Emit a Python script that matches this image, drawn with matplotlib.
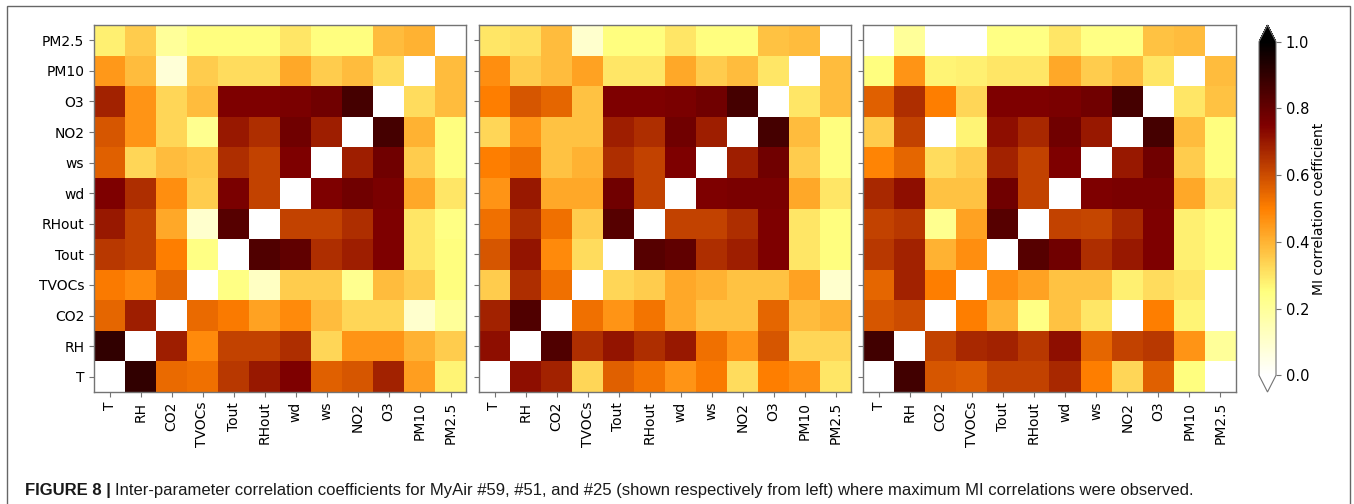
import numpy as np
import matplotlib.pyplot as plt
from matplotlib.patches import Rectangle

# parameter order on both axes
labels = ["T", "RH", "CO2", "TVOCs", "Tout", "RHout", "wd", "ws", "NO2", "O3", "PM10", "PM2.5"]

# MI correlation matrices, row = y parameter (T at bottom), column = x parameter
mi_59 = [
    [0.00, 0.90, 0.54, 0.53, 0.64, 0.70, 0.75, 0.56, 0.58, 0.68, 0.44, 0.27],
    [0.90, 0.00, 0.69, 0.48, 0.62, 0.62, 0.66, 0.33, 0.46, 0.46, 0.40, 0.35],
    [0.55, 0.69, 0.00, 0.54, 0.51, 0.43, 0.48, 0.38, 0.33, 0.33, 0.10, 0.20],
    [0.51, 0.48, 0.55, 0.00, 0.24, 0.12, 0.35, 0.35, 0.22, 0.38, 0.35, 0.25],
    [0.64, 0.62, 0.50, 0.24, 0.00, 0.84, 0.81, 0.66, 0.69, 0.75, 0.30, 0.25],
    [0.70, 0.62, 0.42, 0.10, 0.83, 0.00, 0.62, 0.62, 0.66, 0.75, 0.30, 0.24],
    [0.75, 0.66, 0.47, 0.35, 0.76, 0.62, 0.00, 0.75, 0.78, 0.76, 0.42, 0.30],
    [0.56, 0.33, 0.38, 0.36, 0.66, 0.62, 0.75, 0.00, 0.69, 0.78, 0.35, 0.25],
    [0.58, 0.46, 0.33, 0.22, 0.70, 0.66, 0.78, 0.69, 0.00, 0.86, 0.40, 0.25],
    [0.68, 0.46, 0.33, 0.38, 0.75, 0.75, 0.76, 0.78, 0.86, 0.00, 0.32, 0.38],
    [0.45, 0.38, 0.08, 0.35, 0.32, 0.32, 0.42, 0.35, 0.38, 0.32, 0.00, 0.38],
    [0.28, 0.35, 0.20, 0.25, 0.25, 0.25, 0.30, 0.25, 0.25, 0.38, 0.40, 0.00],
]

mi_51 = [
    [0.00, 0.72, 0.68, 0.33, 0.56, 0.52, 0.46, 0.51, 0.32, 0.50, 0.47, 0.30],
    [0.72, 0.00, 0.84, 0.66, 0.71, 0.66, 0.70, 0.53, 0.46, 0.58, 0.33, 0.33],
    [0.68, 0.84, 0.00, 0.53, 0.46, 0.52, 0.42, 0.37, 0.37, 0.55, 0.38, 0.40],
    [0.35, 0.66, 0.53, 0.00, 0.33, 0.35, 0.42, 0.40, 0.37, 0.37, 0.43, 0.10],
    [0.58, 0.71, 0.48, 0.32, 0.00, 0.83, 0.81, 0.66, 0.69, 0.75, 0.30, 0.25],
    [0.53, 0.66, 0.53, 0.35, 0.83, 0.00, 0.62, 0.62, 0.66, 0.75, 0.30, 0.25],
    [0.46, 0.70, 0.42, 0.42, 0.78, 0.62, 0.00, 0.75, 0.76, 0.76, 0.42, 0.30],
    [0.50, 0.53, 0.37, 0.40, 0.66, 0.62, 0.75, 0.00, 0.69, 0.78, 0.35, 0.25],
    [0.33, 0.46, 0.37, 0.37, 0.69, 0.66, 0.78, 0.69, 0.00, 0.86, 0.38, 0.25],
    [0.50, 0.58, 0.55, 0.37, 0.75, 0.75, 0.76, 0.78, 0.86, 0.00, 0.30, 0.38],
    [0.47, 0.35, 0.38, 0.43, 0.30, 0.30, 0.42, 0.35, 0.38, 0.30, 0.00, 0.38],
    [0.30, 0.31, 0.38, 0.10, 0.25, 0.25, 0.30, 0.25, 0.25, 0.37, 0.38, 0.00],
]

mi_25 = [
    [0.00, 0.87, 0.58, 0.57, 0.62, 0.62, 0.67, 0.50, 0.33, 0.56, 0.25, 0.00],
    [0.87, 0.00, 0.62, 0.67, 0.68, 0.64, 0.72, 0.55, 0.62, 0.64, 0.46, 0.20],
    [0.58, 0.60, 0.00, 0.50, 0.40, 0.24, 0.37, 0.30, 0.00, 0.50, 0.27, 0.00],
    [0.55, 0.68, 0.50, 0.00, 0.47, 0.43, 0.37, 0.37, 0.28, 0.32, 0.30, 0.00],
    [0.64, 0.68, 0.40, 0.47, 0.00, 0.83, 0.78, 0.66, 0.70, 0.75, 0.28, 0.25],
    [0.62, 0.64, 0.22, 0.43, 0.83, 0.00, 0.62, 0.61, 0.67, 0.75, 0.28, 0.25],
    [0.67, 0.72, 0.37, 0.37, 0.78, 0.62, 0.00, 0.75, 0.76, 0.76, 0.42, 0.30],
    [0.49, 0.55, 0.32, 0.35, 0.68, 0.62, 0.75, 0.00, 0.70, 0.78, 0.35, 0.25],
    [0.35, 0.62, 0.00, 0.27, 0.72, 0.67, 0.78, 0.70, 0.00, 0.86, 0.38, 0.25],
    [0.56, 0.66, 0.50, 0.33, 0.75, 0.75, 0.76, 0.78, 0.86, 0.00, 0.30, 0.37],
    [0.25, 0.46, 0.27, 0.28, 0.30, 0.30, 0.42, 0.35, 0.38, 0.30, 0.00, 0.38],
    [0.00, 0.20, 0.00, 0.00, 0.24, 0.24, 0.30, 0.24, 0.24, 0.37, 0.38, 0.00],
]

caption_head = "FIGURE 8 |"
caption_body = ("Inter-parameter correlation coefficients for MyAir #59, #51, and #25 "
                "(shown respectively from left) where maximum MI correlations were observed.")

W, H = 1354, 504
fig = plt.figure(figsize=(W / 100, H / 100), dpi=100)


def px_box(x0, y0, x1, y1):
    # pixel box (top-left origin) -> figure fraction [left, bottom, width, height]
    return [x0 / W, 1 - y1 / H, (x1 - x0) / W, (y1 - y0) / H]


edge = "0.45"
panels = [(94, 466), (479, 851), (863, 1236)]
for i, (mat, (x0, x1)) in enumerate(zip([mi_59, mi_51, mi_25], panels)):
    ax = fig.add_axes(px_box(x0, 25, x1, 392))
    im = ax.imshow(np.array(mat), cmap="afmhot_r", vmin=0, vmax=1,
                   origin="lower", aspect="auto")
    ax.set_xticks(range(len(labels)))
    ax.set_xticklabels(labels, rotation=90, fontsize=10)
    ax.set_yticks(range(len(labels)))
    if i == 0:
        ax.set_yticklabels(labels, fontsize=10)
    else:
        ax.set_yticklabels([])
    ax.tick_params(color=edge, length=3.5, width=0.8)
    for s in ax.spines.values():
        s.set_color(edge)
        s.set_linewidth(1.0)

cax = fig.add_axes(px_box(1259, 25, 1276, 392))
cb = fig.colorbar(im, cax=cax, extend="both")
cb.set_ticks([0.0, 0.2, 0.4, 0.6, 0.8, 1.0])
cb.ax.tick_params(labelsize=10.5, color=edge, width=0.8)
cb.outline.set_edgecolor(edge)
cb.set_label("MI correlation coefficient", fontsize=10, labelpad=2)

# frame around the whole figure
fig.patches.append(Rectangle((7 / W, -0.02), (1350 - 7) / W, 1.02 - 6 / H,
                             transform=fig.transFigure, fill=False,
                             edgecolor="0.4", linewidth=1.0))

cap_font = ["Liberation Sans Narrow", "Liberation Sans", "DejaVu Sans"]
t1 = fig.text(25 / W, 9 / H, caption_head, family=cap_font, fontsize=12,
              fontweight="bold", color="0.1", va="baseline")
fig.canvas.draw()
bb = t1.get_window_extent()
fig.text((bb.x1 + 4) / W, 9 / H, caption_body, family=cap_font, fontsize=12,
         color="0.1", va="baseline")

fig.savefig("out.png", dpi=100)
